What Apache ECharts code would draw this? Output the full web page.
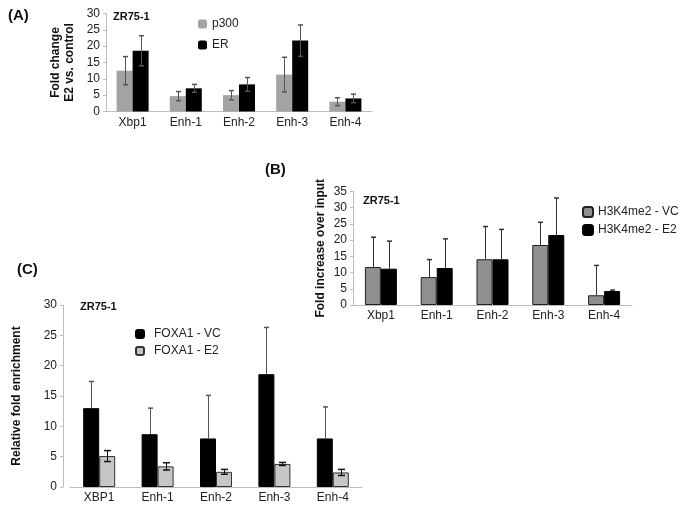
<!DOCTYPE html>
<html>
<head>
<meta charset="utf-8">
<script src="https://cdn.jsdelivr.net/npm/echarts@6/dist/echarts.min.js"></script>
<style>
html,body{margin:0;padding:0;background:#fff;}
#chart{width:683px;height:510px;}
</style>
</head>
<body>
<div id="chart"></div>
<script>
// Panel A
var categoriesA = ['Xbp1', 'Enh-1', 'Enh-2', 'Enh-3', 'Enh-4'];
var p300 = [12.5, 4.7, 5.0, 11.3, 3.0];
var p300Err = [4.3, 1.4, 1.4, 5.3, 1.2];
var erVals = [18.6, 7.1, 8.3, 21.7, 4.0];
var erErr = [4.6, 1.2, 2.1, 4.8, 1.3];
var ticksA = [0, 30, 5];

// Panel B
var categoriesB = ['Xbp1', 'Enh-1', 'Enh-2', 'Enh-3', 'Enh-4'];
var h3VC = [11.7, 8.6, 14.1, 18.5, 3.0];
var h3VCErr = [9.2, 5.4, 10.1, 7.0, 9.2];
var h3E2 = [11.2, 11.4, 14.1, 21.6, 4.3];
var h3E2Err = [8.5, 9.0, 9.2, 11.4, 0.3];
var ticksB = [0, 35, 5];

// Panel C
var categoriesC = ['XBP1', 'Enh-1', 'Enh-2', 'Enh-3', 'Enh-4'];
var foxVC = [13.0, 8.7, 8.0, 18.6, 8.0];
var foxVCErr = [4.4, 4.3, 7.1, 7.7, 5.2];
var foxE2 = [5.1, 3.4, 2.5, 3.8, 2.4];
var foxE2Err = [0.9, 0.6, 0.4, 0.25, 0.5];
var ticksC = [0, 30, 5];

var FONT = 'Liberation Sans, Arial, sans-serif';
var BW = 16;

function errSeries(axisIdx, vals, errs, offset, both, capW, color) {
  var data = vals.map(function (v, i) { return [i, v, errs[i]]; });
  return {
    type: 'custom',
    xAxisIndex: axisIdx, yAxisIndex: axisIdx,
    z: 10, silent: true,
    data: data,
    encode: { x: 0, y: 1 },
    renderItem: function (params, api) {
      var i = api.value(0), v = api.value(1), e = api.value(2);
      var top = api.coord([i, v + e]);
      var bot = api.coord([i, both ? v - e : v]);
      var x = Math.round(top[0] + offset) + 0.5;
      var children = [
        { type: 'line', shape: { x1: x, y1: top[1], x2: x, y2: bot[1] }, style: { stroke: color, lineWidth: 1 } },
        { type: 'line', shape: { x1: x - capW / 2, y1: top[1], x2: x + capW / 2, y2: top[1] }, style: { stroke: color, lineWidth: 1.5 } }
      ];
      if (both) {
        children.push({ type: 'line', shape: { x1: x - capW / 2, y1: bot[1], x2: x + capW / 2, y2: bot[1] }, style: { stroke: color, lineWidth: 1.5 } });
      }
      return { type: 'group', children: children };
    }
  };
}

function xAx(idx, cats, grid) {
  return {
    type: 'category', gridIndex: grid, data: cats,
    axisLine: { lineStyle: { color: '#bdbdbd', width: 1 } },
    axisTick: { show: false },
    axisLabel: { color: '#222', fontSize: 12, fontFamily: FONT, margin: 5 }
  };
}
function yAx(grid, t, name, gap, offset) {
  return {
    type: 'value', gridIndex: grid, min: t[0], max: t[1], interval: t[2],
    offset: offset || 0,
    name: name, nameLocation: 'middle', nameRotate: 90, nameGap: gap,
    nameTextStyle: { color: '#111', fontSize: 12, fontWeight: 'bold', fontFamily: FONT, lineHeight: 14 },
    splitLine: { show: false },
    axisLine: { show: true, lineStyle: { color: '#bdbdbd', width: 1 } },
    axisTick: { show: true, length: 3, lineStyle: { color: '#bdbdbd' } },
    axisLabel: { color: '#222', fontSize: 12, fontFamily: FONT, margin: 6 }
  };
}
function ttl(text, left, top, size) {
  return { text: text, left: left, top: top, padding: 0,
    textStyle: { fontSize: size, fontWeight: 'bold', color: '#111', fontFamily: FONT } };
}

var chart = echarts.init(document.getElementById('chart'), null, { renderer: 'canvas' });
var option = {
  animation: false,
  backgroundColor: '#fff',
  textStyle: { fontFamily: FONT },
  title: [
    ttl('(A)', 8, 8, 15),
    ttl('ZR75-1', 113, 11, 11),
    ttl('(B)', 265, 162, 15),
    ttl('ZR75-1', 363, 195, 11),
    ttl('(C)', 17, 262, 15),
    ttl('ZR75-1', 80, 301, 11)
  ],
  legend: [
    { data: ['p300', 'ER'], orient: 'vertical', left: 193, top: 13, itemWidth: 9, itemHeight: 9, itemGap: 9,
      textStyle: { fontSize: 12, color: '#222', fontFamily: FONT }, selectedMode: false },
    { data: ['H3K4me2 - VC', 'H3K4me2 - E2'], orient: 'vertical', left: 577, top: 201, itemWidth: 10, itemHeight: 10, itemGap: 6,
      textStyle: { fontSize: 12, color: '#222', fontFamily: FONT }, selectedMode: false },
    { data: ['FOXA1 - VC', 'FOXA1 - E2'], orient: 'vertical', left: 130, top: 323, itemWidth: 8, itemHeight: 8, itemGap: 5,
      textStyle: { fontSize: 12, color: '#222', fontFamily: FONT, padding: [0, 0, 0, 5] }, selectedMode: false }
  ],
  grid: [
    { left: 106, top: 13.5, width: 266, height: 98 },
    { left: 353, top: 191.5, width: 279, height: 113.5 },
    { left: 70, top: 305, width: 292, height: 182 }
  ],
  xAxis: [xAx(0, categoriesA, 0), xAx(1, categoriesB, 1), xAx(2, categoriesC, 2)],
  yAxis: [
    yAx(0, ticksA, 'Fold change\nE2 vs. control', 29),
    yAx(1, ticksB, 'Fold increase over input', 25),
    yAx(2, ticksC, 'Relative fold enrichment', 39, 7)
  ],
  series: [
    { name: 'p300', type: 'bar', xAxisIndex: 0, yAxisIndex: 0, data: p300, barWidth: BW, barGap: '0%',
      itemStyle: { color: '#a3a3a3' } },
    { name: 'ER', type: 'bar', xAxisIndex: 0, yAxisIndex: 0, data: erVals, barWidth: BW, barGap: '0%',
      itemStyle: { color: '#000' } },
    errSeries(0, p300, p300Err, -BW / 2, true, 5, '#555'),
    errSeries(0, erVals, erErr, BW / 2, true, 5, '#555'),

    { name: 'H3K4me2 - VC', type: 'bar', xAxisIndex: 1, yAxisIndex: 1, data: h3VC, barWidth: BW, barGap: '0%',
      itemStyle: { color: '#8f8f8f', borderColor: '#222', borderWidth: 1 } },
    { name: 'H3K4me2 - E2', type: 'bar', xAxisIndex: 1, yAxisIndex: 1, data: h3E2, barWidth: BW, barGap: '0%',
      itemStyle: { color: '#000', borderColor: '#000', borderWidth: 1 } },
    errSeries(1, h3VC, h3VCErr, -BW / 2, false, 5, '#333'),
    errSeries(1, h3E2, h3E2Err, BW / 2, false, 5, '#333'),

    { name: 'FOXA1 - VC', type: 'bar', xAxisIndex: 2, yAxisIndex: 2, data: foxVC, barWidth: BW, barGap: '0%',
      itemStyle: { color: '#000', borderColor: '#000', borderWidth: 1 } },
    { name: 'FOXA1 - E2', type: 'bar', xAxisIndex: 2, yAxisIndex: 2, data: foxE2, barWidth: BW, barGap: '0%',
      itemStyle: { color: '#c6c6c6', borderColor: '#333', borderWidth: 1 } },
    errSeries(2, foxVC, foxVCErr, -BW / 2, false, 5, '#555'),
    errSeries(2, foxE2, foxE2Err, BW / 2, true, 7, '#111')
  ]
};
chart.setOption(option);
</script>
</body>
</html>
